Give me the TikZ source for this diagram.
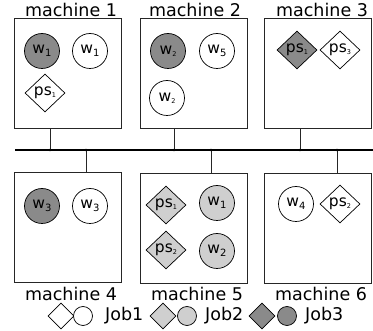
\documentclass[tikz,border=0pt]{standalone}
\usepackage{fontspec}
\setmainfont{DejaVu Sans}
\usetikzlibrary{shapes.geometric}
\definecolor{jobdark}{HTML}{8A8A8A}
\definecolor{joblight}{HTML}{CFCFCF}
\newcommand{\lowidx}[1]{\raisebox{-0.3ex}{\fontsize{10}{10}\selectfont #1}}
\newcommand{\tinyidx}[1]{\raisebox{-0.25ex}{\fontsize{6.5}{6.5}\selectfont #1}}
\begin{document}
\begin{tikzpicture}[x=1pt,y=-1pt,
  machbox/.style={draw=black!85,line width=0.9pt,minimum width=107pt,minimum height=110pt,inner sep=0pt,anchor=north west},
  worker/.style={circle,draw=black,line width=0.7pt,minimum size=35pt,inner sep=0pt,font=\fontsize{15.5}{15.5}\selectfont},
  server/.style={diamond,draw=black,line width=0.7pt,minimum width=40pt,minimum height=38pt,inner sep=0pt,font=\fontsize{15.5}{15.5}\selectfont},
  mlabel/.style={font=\fontsize{17.5}{18}\selectfont,inner sep=0pt},
  legdia/.style={diamond,draw=black,line width=0.7pt,minimum width=26pt,minimum height=26pt,inner sep=0pt},
  legcirc/.style={circle,draw=black,line width=0.7pt,minimum size=19pt,inner sep=0pt},
  link/.style={line width=0.9pt,black!85},
  j1/.style={fill=white},
  j2/.style={fill=joblight},
  j3/.style={fill=jobdark}]
\useasboundingbox (0,0) rectangle (373,331);

% machines
\node[machbox] (m1) at (14,18) {};
\node[machbox] (m2) at (140,18) {};
\node[machbox] (m3) at (264,18) {};
\node[machbox] (m4) at (14,172) {};
\node[machbox] (m5) at (140,173) {};
\node[machbox] (m6) at (264,173) {};

% machine labels
\node[mlabel] (l1) at (71,10) {machine 1};
\node[mlabel] (l2) at (195,10) {machine 2};
\node[mlabel] (l3) at (322,10) {machine 3};
\node[mlabel] (l4) at (71,294) {machine 4};
\node[mlabel] (l5) at (197,294) {machine 5};
\node[mlabel] (l6) at (321,294) {machine 6};

% network bus
\coordinate (busL) at (15,150);
\coordinate (busR) at (373,150);
\draw[line width=1.8pt] (busL) -- (busR);
\foreach \m/\x in {m1/50,m2/174,m3/300} {
  \coordinate (t\m) at (\x,150);
  \draw[link] (t\m) -- (t\m |- \m.south);
  \fill (t\m) circle (1.3pt);
}
\foreach \m/\x in {m4/86,m5/211,m6/337} {
  \coordinate (t\m) at (\x,150);
  \draw[link] (t\m) -- (t\m |- \m.north);
  \fill (t\m) circle (1.3pt);
}

% machine 1
\node[worker,j3] (a1) at (42,51) {w\lowidx{1}};
\node[worker,j1] (a2) at (90,51) {w\lowidx{1}};
\node[server,j1] (a3) at (45,93) {ps\tinyidx{1}};
% machine 2
\node[worker,j3] (b1) at (168,51) {w\tinyidx{2}};
\node[worker,j1] (b2) at (217,51) {w\lowidx{5}};
\node[worker,j1] (b3) at (167,98) {w\tinyidx{2}};
% machine 3
\node[server,j3] (c1) at (297,50) {ps\tinyidx{1}};
\node[server,j1] (c2) at (340,50) {ps\tinyidx{3}};
% machine 4
\node[worker,j3] (d1) at (42,206) {w\lowidx{3}};
\node[worker,j1] (d2) at (90,206) {w\lowidx{3}};
% machine 5
\node[server,j2] (e1) at (166,205) {ps\tinyidx{1}};
\node[server,j2] (e2) at (166,250) {ps\tinyidx{2}};
\node[worker,j2] (e3) at (217,203) {w\lowidx{1}};
\node[worker,j2] (e4) at (217,251) {w\lowidx{2}};
% machine 6
\node[worker,j1] (f1) at (296,204) {w\lowidx{4}};
\node[server,j1] (f2) at (340,204) {ps\tinyidx{2}};

% legend
\node[legdia,j1] (k1d) at (61,316) {};
\node[legcirc,j1] (k1c) at (83,316) {};
\node[mlabel,anchor=west] (k1t) at (105,316) {Job1};
\node[legdia,j2] (k2d) at (163,316) {};
\node[legcirc,j2] (k2c) at (187,316) {};
\node[mlabel,anchor=west] (k2t) at (205,316) {Job2};
\node[legdia,j3] (k3d) at (262,316) {};
\node[legcirc,j3] (k3c) at (287,316) {};
\node[mlabel,anchor=west] (k3t) at (305,316) {Job3};
\end{tikzpicture}
\end{document}
